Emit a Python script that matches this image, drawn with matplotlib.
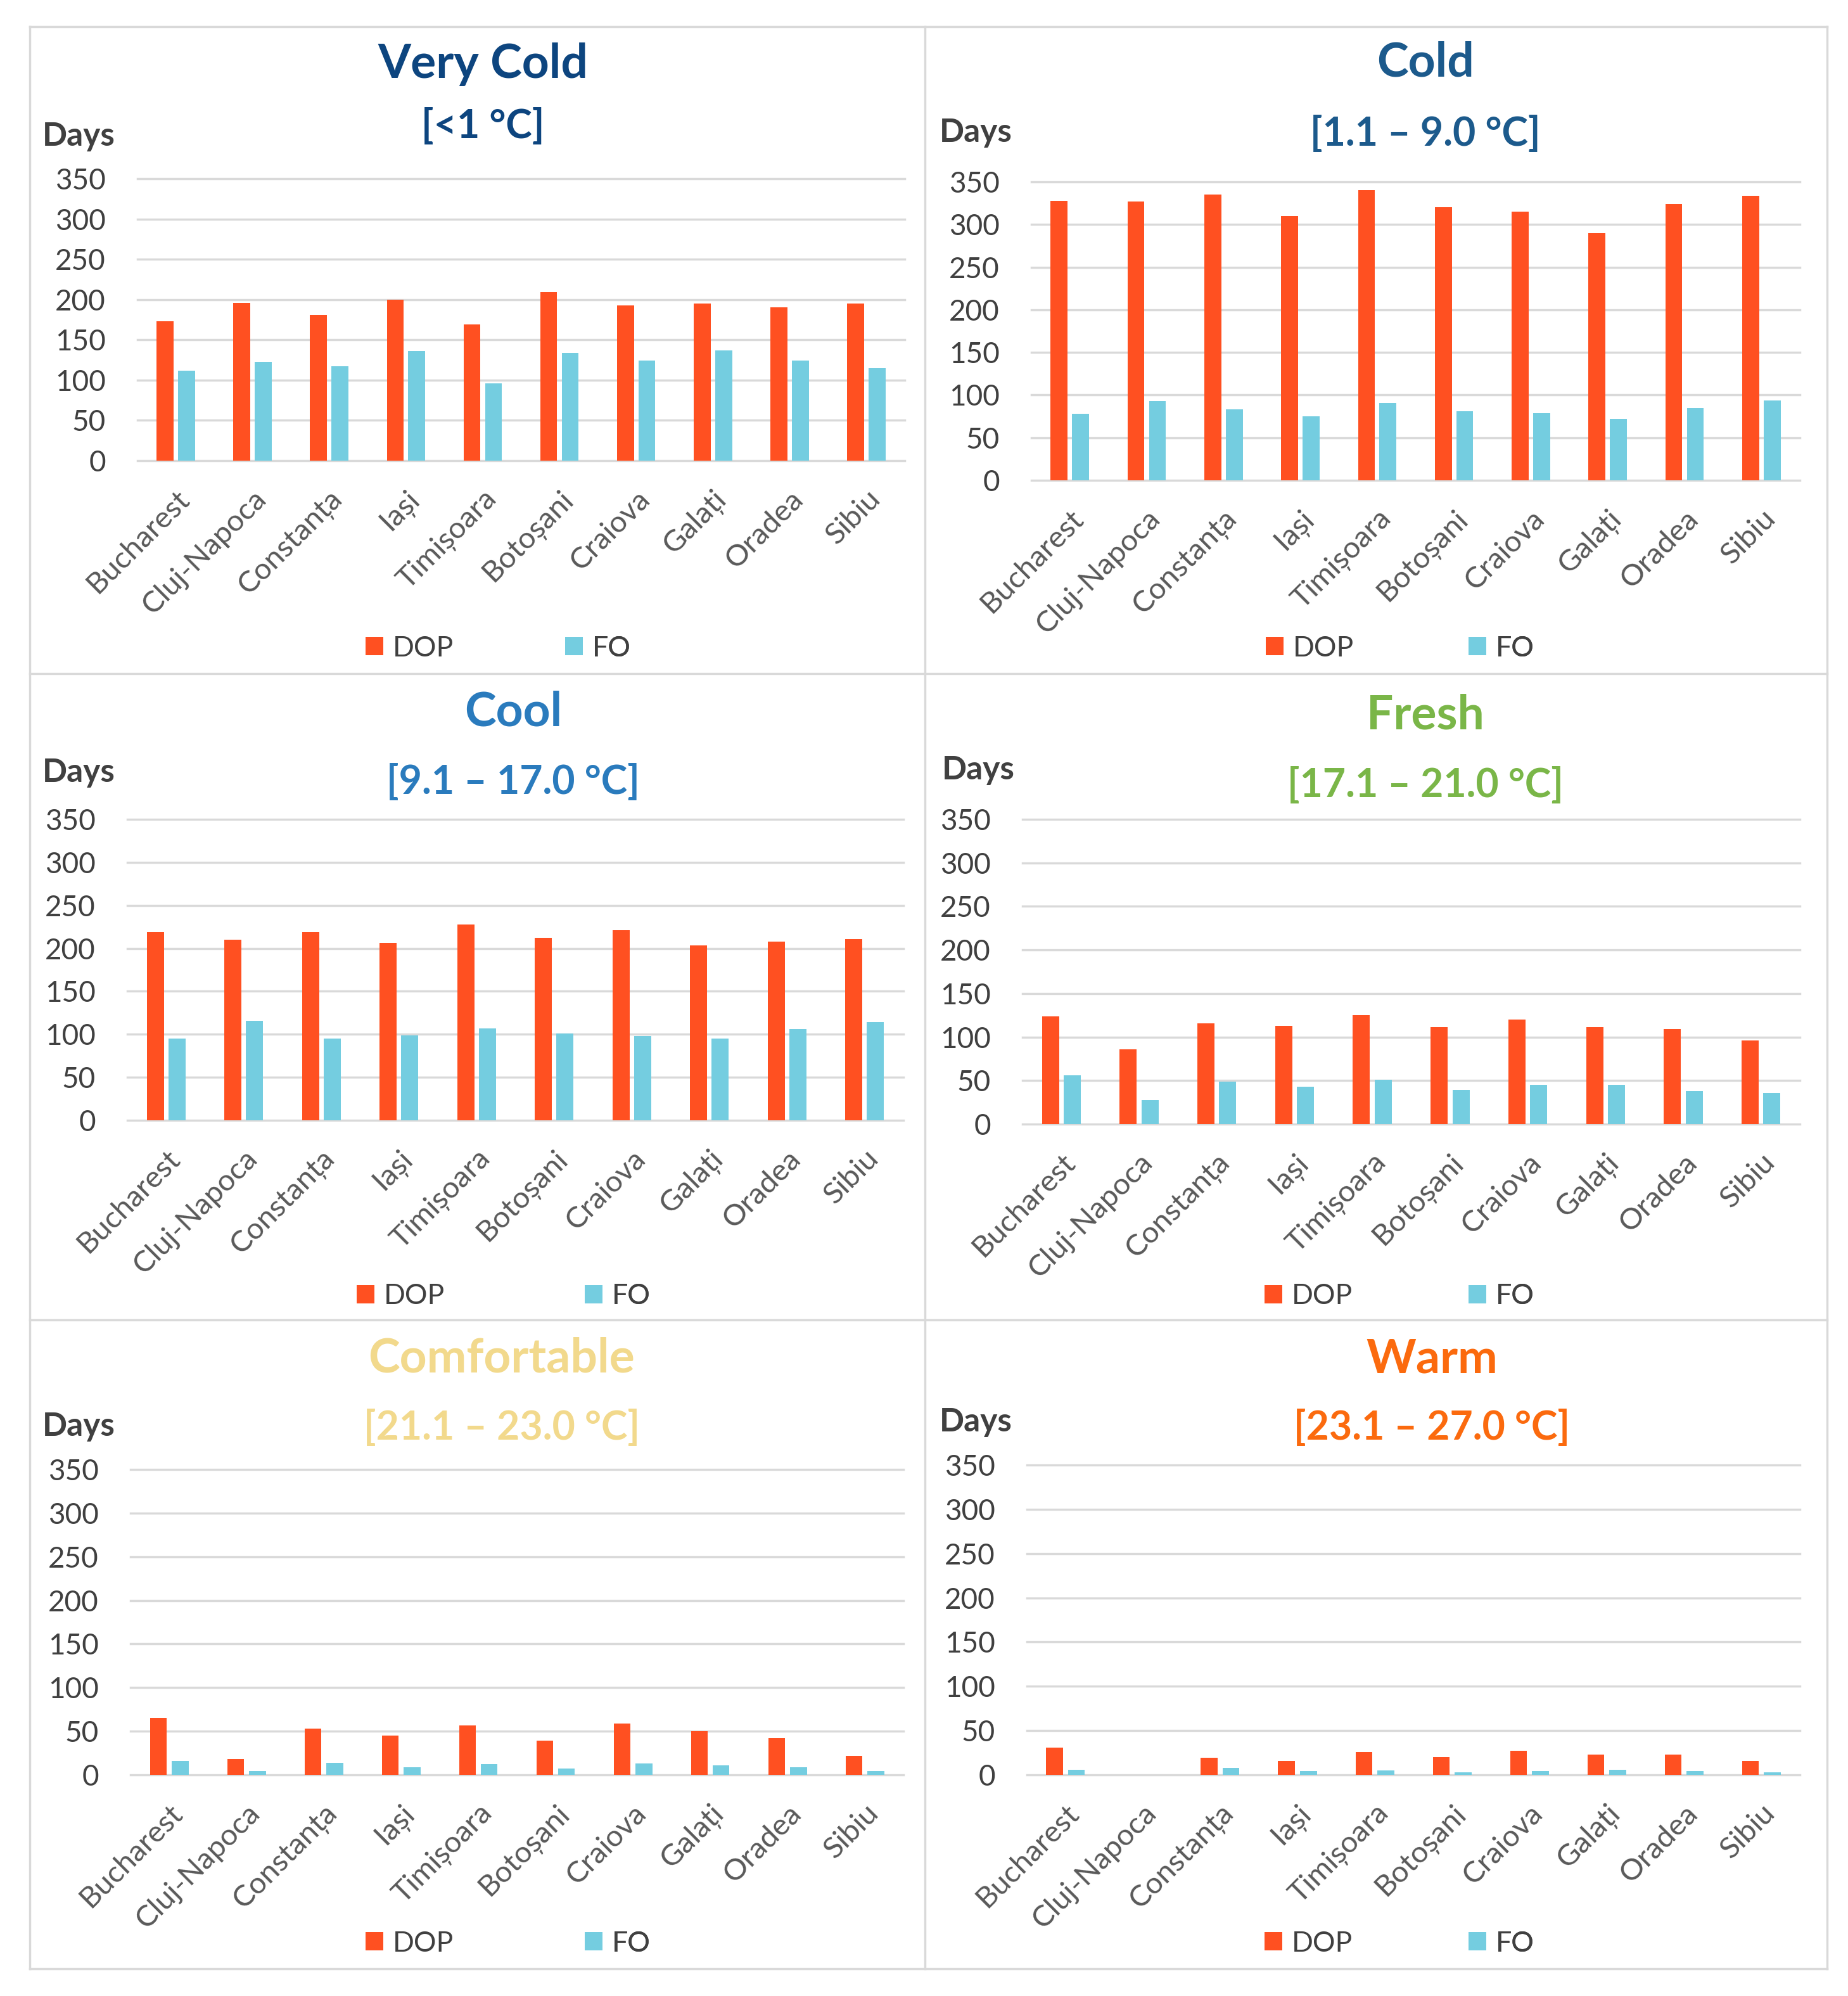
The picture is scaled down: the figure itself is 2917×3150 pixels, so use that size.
import matplotlib
matplotlib.use("Agg")
import matplotlib.pyplot as plt
from matplotlib.lines import Line2D
from matplotlib.patches import Patch
from matplotlib.transforms import ScaledTranslation
import numpy as np

plt.rcParams['font.family'] = ['Lato', 'DejaVu Sans']

# data
cities = ["Bucharest", "Cluj-Napoca", "Constanța", "Iași", "Timișoara",
          "Botoșani", "Craiova", "Galați", "Oradea", "Sibiu"]

very_cold_dop = [173, 196, 181, 200, 169, 209, 193, 195, 190, 195]
very_cold_fo = [112, 123, 117, 136, 96, 134, 124, 137, 124, 115]
cold_dop = [328, 327, 335, 310, 340, 320, 315, 290, 324, 334]
cold_fo = [78, 93, 83, 75, 91, 81, 79, 72, 85, 94]
cool_dop = [219, 210, 219, 206, 228, 212, 221, 203, 208, 211]
cool_fo = [95, 116, 95, 99, 107, 101, 98, 95, 106, 114]
fresh_dop = [124, 86, 116, 113, 125, 111, 120, 111, 109, 96]
fresh_fo = [56, 28, 49, 43, 51, 39, 45, 45, 38, 36]
comf_dop = [65, 18, 53, 45, 57, 39, 59, 50, 42, 22]
comf_fo = [16, 4, 14, 9, 12, 7, 13, 11, 9, 4]
warm_dop = [31, 0, 19, 16, 26, 20, 27, 23, 23, 16]
warm_fo = [6, 0, 8, 4, 5, 3, 4, 6, 4, 3]

titles = ["Very Cold", "Cold", "Cool", "Fresh", "Comfortable", "Warm"]
subtitles = ["[<1 °C]", "[1.1 – 9.0 °C]", "[9.1 – 17.0 °C]",
             "[17.1 – 21.0 °C]", "[21.1 – 23.0 °C]", "[23.1 – 27.0 °C]"]
yticks = [0, 50, 100, 150, 200, 250, 300, 350]

dop_all = [very_cold_dop, cold_dop, cool_dop, fresh_dop, comf_dop, warm_dop]
fo_all = [very_cold_fo, cold_fo, cool_fo, fresh_fo, comf_fo, warm_fo]

title_colors = ["#0d457f", "#1c5a8c", "#2a7bbd", "#7ab648", "#f2d98c", "#fb6a0e"]
DOP_C = "#ff5021"
FO_C = "#74cde0"
GRID_C = "#d9d9d9"

W, H = 2917, 3150
fig = plt.figure(figsize=(W / 100, H / 100), dpi=100)

# layout in pixels (left, right, top of 350 line, zero line)
boxes = [(217, 1428, 282, 727), (1628, 2841, 287, 758),
         (201, 1426, 1293, 1768), (1614, 2841, 1293, 1774),
         (206, 1426, 2319, 2801), (1621, 2841, 2312, 2801)]
title_pos = [(762, 101, 200), (2250, 99, 212), (810, 1124, 1235),
             (2250, 1129, 1240), (792, 2144, 2253), (2260, 2145, 2253)]
days_pos = [(67, 230), (1483, 224), (67, 1234), (1487, 1230), (67, 2266), (1483, 2259)]
legend_pos = [(577, 892, 1023), (1998, 2318, 1023), (563, 923, 2046),
              (1996, 2318, 2046), (577, 923, 3067), (1996, 2318, 3067)]

x = np.arange(len(cities))

def key(ax, color, label, px, py):
    lg = ax.legend([Patch(facecolor=color)], [label], loc="center left",
                   bbox_to_anchor=(px / W, 1 - py / H), bbox_transform=fig.transFigure,
                   frameon=False, borderpad=0, borderaxespad=0, fontsize=32,
                   handlelength=0.62, handleheight=0.62, handletextpad=0.35,
                   labelcolor="#404040")
    ax.add_artist(lg)

for i in range(6):
    l, r, t, b = boxes[i]
    ax = fig.add_axes([l / W, 1 - b / H, (r - l) / W, (b - t) / H])
    ax.bar(x - 0.14, dop_all[i], width=0.22, color=DOP_C, zorder=3)
    ax.bar(x + 0.14, fo_all[i], width=0.22, color=FO_C, zorder=3)
    ax.set_xlim(-0.5, 9.5)
    ax.set_ylim(0, 350)
    ax.set_yticks(yticks)
    ax.set_xticks(x)
    ax.set_xticklabels(cities, rotation=45, ha="right", va="top",
                       rotation_mode="anchor", fontsize=34, color="#595959")
    for lab in ax.get_xticklabels():
        lab.set_transform(lab.get_transform() + ScaledTranslation(-0.05, 0, fig.dpi_scale_trans))
    ax.tick_params(axis="y", length=0, pad=36, labelsize=33, labelcolor="#404040")
    ax.tick_params(axis="x", length=0, pad=28)
    ax.grid(axis="y", color=GRID_C, linewidth=2.5)
    for gl in ax.get_ygridlines():
        gl.set_clip_on(False)
    ax.set_axisbelow(True)
    for s in ax.spines.values():
        s.set_visible(False)

    tx, ty, sy = title_pos[i]
    fig.text(tx / W, 1 - ty / H, titles[i], ha="center", va="center",
             fontsize=54, fontweight="bold", color=title_colors[i])
    fig.text(tx / W, 1 - sy / H, subtitles[i], ha="center", va="center",
             fontsize=45, fontweight="bold", color=title_colors[i])
    dx, dy = days_pos[i]
    fig.text(dx / W, 1 - dy / H, "Days", ha="left", va="baseline",
             fontsize=37, fontweight="bold", color="#404040")

    k1, k2, ky = legend_pos[i]
    key(ax, DOP_C, "DOP", k1, ky)
    key(ax, FO_C, "FO", k2, ky)

# panel frames
for xv in [47, 1460, 2884]:
    fig.add_artist(Line2D([xv / W, xv / W], [1 - 42 / H, 1 - 3107 / H],
                          color=GRID_C, linewidth=2.5, transform=fig.transFigure))
for yv in [42, 1063, 2083, 3107]:
    fig.add_artist(Line2D([47 / W, 2884 / W], [1 - yv / H, 1 - yv / H],
                          color=GRID_C, linewidth=2.5, transform=fig.transFigure))

fig.savefig("out.png", dpi=100, facecolor="white")
